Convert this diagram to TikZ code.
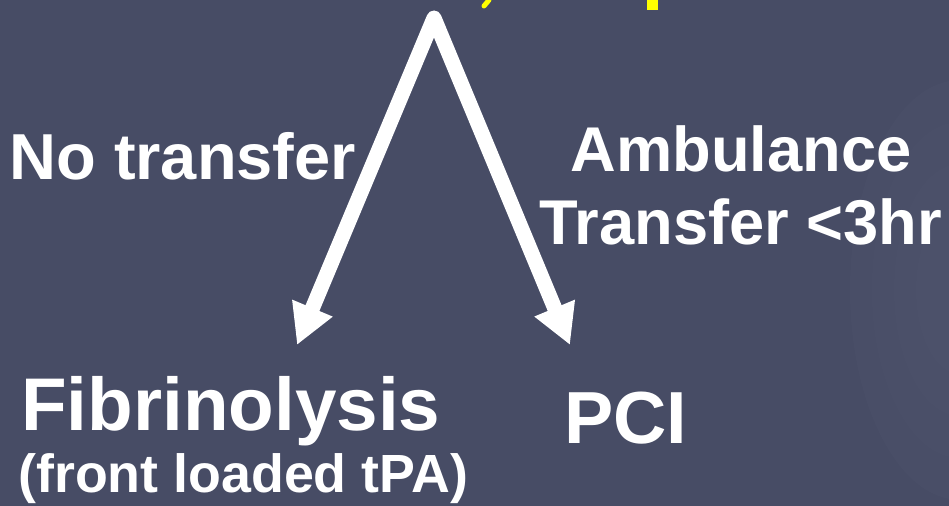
\documentclass[tikz,border=0pt]{standalone}
\usepackage{fontspec}
\setmainfont{Liberation Sans}
\usetikzlibrary{arrows.meta}
\definecolor{slatebg}{RGB}{71,76,101}
\definecolor{slatehi}{RGB}{80,85,110}
\definecolor{titleyellow}{RGB}{255,255,0}
\tikzset{
  lbl/.style={inner sep=0pt,text=white,font=\bfseries},
  bigarrow/.style={white,line width=0.3cm,line join=round,
    {Triangle[length=0.8cm,width=0.82cm]}-{Triangle[length=0.8cm,width=0.82cm]}}
}
\begin{document}
\begin{tikzpicture}[x=0.02cm,y=-0.02cm]
  \useasboundingbox (0,0) rectangle (949,506);
  \fill[slatebg] (0,0) rectangle (949,506);
  \begin{scope}
    \clip (0,0) rectangle (949,506);
    \foreach \r in {1,0.8,0.6,0.4}
      \fill[slatehi,opacity=0.25] (960,290) ellipse ({110*\r} and {210*\r});
  \end{scope}
  % bits of the cut off title
  \draw[titleyellow,line width=0.1cm,line cap=round] (489,0) -- (484,6);
  \fill[titleyellow] (647,0) rectangle (658,10);
  % branch point and arrow ends
  \coordinate (top) at (434,18);
  \coordinate (fibtip) at (297,345);
  \coordinate (pcitip) at (570,345);
  \draw[bigarrow] (fibtip) -- (top) -- (pcitip);
  % labels
  \node[lbl,anchor=base west,font=\fontsize{37}{40}\bfseries] (notrans) at (9,180) {No transfer};
  \node[lbl,anchor=base,font=\fontsize{36}{40}\bfseries] (amb) at (741,172) {Ambulance};
  \node[lbl,anchor=base,font=\fontsize{36}{40}\bfseries] (trans) at (741,245) {Transfer <3hr};
  \node[lbl,anchor=base west,font=\fontsize{42.5}{45}\bfseries] (fib) at (21,430) {Fibrinolysis};
  \node[lbl,anchor=base west,font=\fontsize{30.6}{33}\bfseries] (tpa) at (18,492) {(front loaded tPA)};
  \node[lbl,anchor=base west,font=\fontsize{42}{45}\bfseries] (pci) at (564,443) {PCI};
\end{tikzpicture}
\end{document}
